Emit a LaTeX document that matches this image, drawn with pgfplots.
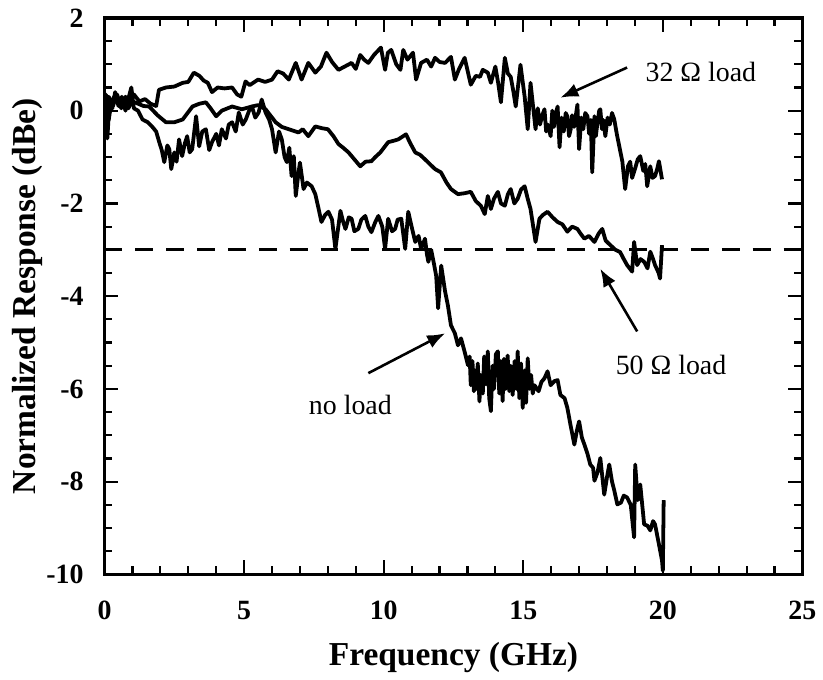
\documentclass[border=0pt]{standalone}
\usepackage{pgfplots}
\pgfplotsset{compat=1.18}
\usepackage{fontspec}
\setmainfont{Liberation Serif}
\usetikzlibrary{arrows.meta}

\pgfplotstableread{
x y
0.00 0.05
0.10 -0.45
0.15 0.30
0.30 0.10
0.45 0.35
0.60 0.05
0.75 0.30
0.90 0.15
1.05 0.35
1.25 0.20
1.45 0.25
1.65 0.15
1.85 0.10
1.95 0.45
2.20 0.50
2.50 0.52
2.80 0.60
3.00 0.62
3.20 0.82
3.40 0.75
3.55 0.65
3.70 0.60
3.85 0.40
4.05 0.50
4.30 0.48
4.57 0.50
4.75 0.35
4.90 0.30
5.05 0.63
5.20 0.55
5.50 0.67
5.75 0.62
6.00 0.67
6.20 0.85
6.40 0.80
6.60 0.67
6.85 1.03
7.06 0.67
7.30 1.03
7.55 0.82
7.75 0.95
7.95 1.25
8.15 1.05
8.38 0.88
8.60 0.95
8.85 1.03
9.00 0.90
9.16 1.20
9.30 1.10
9.45 1.03
9.65 1.20
9.90 1.36
10.05 0.88
10.15 1.25
10.27 1.31
10.45 1.00
10.60 0.88
10.70 1.31
10.85 1.10
11.05 1.25
11.16 0.67
11.34 1.03
11.55 1.10
11.70 0.95
11.84 1.14
12.00 1.05
12.20 1.03
12.41 1.16
12.55 0.67
12.70 0.90
12.90 1.14
13.12 0.56
13.30 0.75
13.45 0.73
13.55 0.88
13.73 0.82
13.84 0.60
14.00 0.95
14.10 0.60
14.20 0.18
14.34 1.14
14.45 0.80
14.55 0.73
14.65 0.40
14.73 0.09
14.90 0.99
15.05 0.30
15.16 -0.40
15.26 0.60
15.35 0.10
15.44 -0.40
15.52 0.05
15.60 -0.30
15.68 -0.10
15.76 0.03
15.82 -0.45
15.88 -0.30
15.98 -0.55
16.04 0.00
16.10 -0.35
16.17 -0.05
16.23 0.09
16.30 -0.79
16.37 -0.15
16.45 -0.45
16.52 -0.05
16.58 -0.12
16.64 -0.55
16.70 -0.40
16.75 -0.10
16.82 -0.35
16.94 0.13
17.00 -0.83
17.08 -0.15
17.15 -0.40
17.22 -0.05
17.30 -0.12
17.36 -0.50
17.42 -0.20
17.47 -1.33
17.55 -0.12
17.60 -0.55
17.65 -0.30
17.72 0.00
17.76 0.03
17.82 -0.40
17.87 -0.20
17.94 -0.55
18.02 -0.15
18.10 -0.30
18.18 -0.05
18.26 -0.19
18.35 -0.50
18.44 -0.77
18.55 -1.10
18.65 -1.69
18.75 -1.20
18.83 -1.10
18.90 -1.45
19.00 -1.26
19.10 -1.05
19.19 -0.98
19.30 -1.30
19.37 -1.15
19.44 -1.63
19.55 -1.20
19.63 -1.45
19.72 -1.41
19.80 -1.25
19.86 -1.09
19.97 -1.48
}\loadA

\pgfplotstableread{
x y
0.00 0.00
0.07 0.30
0.15 -0.20
0.25 0.20
0.40 0.35
0.55 0.10
0.70 0.25
0.85 0.05
1.00 0.20
1.20 0.15
1.40 0.10
1.60 0.09
1.90 -0.10
2.20 -0.25
2.50 -0.25
2.80 -0.19
3.15 0.09
3.40 0.15
3.63 0.18
3.80 0.05
4.00 -0.12
4.20 0.00
4.57 0.09
4.92 0.03
5.28 0.09
5.50 0.12
5.77 0.03
6.13 -0.25
6.35 -0.35
6.60 -0.40
6.95 -0.47
7.10 -0.40
7.30 -0.55
7.55 -0.34
7.80 -0.38
8.00 -0.40
8.20 -0.55
8.38 -0.72
8.55 -0.80
8.74 -0.90
8.95 -1.05
9.16 -1.20
9.35 -1.10
9.56 -1.09
9.70 -1.00
9.88 -0.90
10.16 -0.68
10.35 -0.65
10.52 -0.62
10.80 -0.51
10.95 -0.70
11.13 -0.90
11.30 -0.95
11.48 -1.05
11.65 -1.15
11.84 -1.26
12.05 -1.33
12.25 -1.55
12.41 -1.69
12.66 -1.80
12.90 -1.78
13.12 -1.75
13.30 -1.95
13.48 -2.05
13.62 -2.23
13.73 -1.84
13.84 -2.12
13.95 -1.90
14.09 -1.75
14.20 -2.00
14.34 -2.05
14.45 -1.80
14.55 -1.69
14.68 -2.00
14.80 -1.90
14.92 -1.70
15.05 -1.63
15.16 -1.90
15.26 -2.12
15.44 -2.83
15.58 -2.33
15.70 -2.25
15.87 -2.18
16.05 -2.30
16.23 -2.40
16.40 -2.45
16.58 -2.61
16.75 -2.50
16.94 -2.55
17.05 -2.65
17.19 -2.76
17.35 -2.70
17.55 -2.83
17.70 -2.65
17.83 -2.55
17.95 -2.80
18.12 -2.90
18.30 -3.00
18.47 -3.05
18.60 -3.20
18.72 -3.33
18.90 -3.47
18.97 -2.83
19.08 -3.33
19.20 -3.20
19.33 -3.26
19.45 -3.40
19.55 -3.04
19.65 -3.20
19.72 -3.33
19.85 -3.50
19.90 -3.62
19.97 -2.90
}\loadB

\pgfplotstableread{
x y
0.00 -0.10
0.05 0.35
0.10 -0.60
0.18 0.20
0.28 0.05
0.38 0.40
0.50 0.10
0.62 0.30
0.75 0.00
0.85 0.25
0.96 0.50
1.05 0.05
1.20 0.00
1.36 -0.19
1.55 -0.25
1.70 -0.34
1.85 -0.45
1.96 -0.68
2.05 -0.85
2.14 -1.11
2.25 -0.75
2.32 -0.83
2.39 -1.26
2.50 -0.90
2.58 -1.10
2.67 -0.62
2.78 -0.98
2.88 -0.70
2.96 -0.55
3.05 -0.90
3.14 -0.83
3.28 -0.12
3.39 -0.77
3.50 -0.45
3.63 -0.40
3.75 -0.85
3.85 -0.68
4.00 -0.50
4.10 -0.75
4.20 -0.40
4.35 -0.60
4.45 -0.30
4.57 -0.25
4.70 -0.45
4.81 -0.04
4.95 -0.30
5.06 -0.19
5.18 0.00
5.28 0.09
5.40 -0.15
5.52 -0.04
5.63 0.24
5.77 -0.04
5.90 -0.20
6.00 -0.40
6.13 -0.90
6.25 -0.45
6.35 -0.62
6.45 -1.00
6.53 -1.11
6.62 -0.80
6.70 -1.41
6.78 -0.98
6.85 -1.84
6.95 -1.33
7.00 -1.12
7.13 -1.69
7.25 -1.55
7.42 -1.63
7.55 -1.80
7.67 -2.12
7.77 -2.40
7.90 -2.25
8.02 -2.18
8.15 -2.35
8.27 -2.98
8.45 -2.16
8.55 -2.40
8.63 -2.55
8.75 -2.30
8.85 -2.33
8.95 -2.60
9.09 -2.55
9.20 -2.35
9.34 -2.27
9.45 -2.50
9.56 -2.62
9.70 -2.40
9.81 -2.27
9.95 -2.50
10.05 -2.98
10.16 -2.33
10.30 -2.60
10.41 -2.55
10.50 -2.35
10.63 -2.33
10.77 -2.98
10.88 -2.18
11.00 -2.50
11.13 -2.83
11.25 -2.70
11.34 -2.98
11.48 -2.76
11.55 -3.10
11.60 -3.26
11.70 -3.00
11.80 -3.30
11.88 -3.56
11.95 -4.26
12.06 -3.34
12.20 -3.90
12.30 -4.20
12.41 -4.63
12.55 -4.80
12.66 -5.06
12.77 -4.91
12.90 -5.20
13.02 -5.49
13.08 -5.30
13.12 -5.92
13.18 -5.40
13.23 -6.05
13.27 -5.60
13.33 -6.00
13.37 -5.45
13.43 -6.27
13.48 -5.70
13.55 -6.10
13.60 -5.30
13.66 -5.90
13.73 -5.19
13.78 -6.20
13.84 -6.48
13.90 -5.50
13.95 -6.00
14.02 -5.25
14.09 -5.19
14.14 -6.10
14.20 -5.40
14.26 -6.26
14.31 -5.35
14.37 -6.00
14.44 -5.28
14.50 -6.05
14.55 -5.50
14.62 -6.13
14.69 -5.40
14.75 -6.00
14.80 -5.19
14.86 -6.20
14.92 -5.45
14.98 -6.41
15.05 -5.60
15.10 -6.30
15.16 -5.34
15.22 -6.00
15.28 -5.70
15.34 -6.10
15.40 -5.92
15.55 -6.05
15.65 -5.85
15.76 -5.77
15.87 -5.62
15.98 -5.92
16.12 -5.83
16.23 -5.81
16.33 -6.13
16.48 -6.20
16.58 -6.41
16.69 -6.77
16.83 -7.20
16.92 -6.90
17.00 -6.70
17.10 -7.05
17.19 -7.20
17.30 -7.40
17.40 -7.63
17.50 -7.70
17.55 -7.98
17.66 -7.80
17.76 -7.49
17.90 -8.28
18.00 -7.90
18.08 -7.63
18.18 -8.00
18.26 -8.19
18.37 -8.49
18.50 -8.45
18.60 -8.30
18.72 -8.34
18.85 -8.50
18.97 -9.20
19.01 -7.63
19.10 -8.40
19.19 -8.06
19.33 -8.92
19.45 -8.95
19.55 -9.05
19.65 -8.85
19.72 -8.92
19.86 -9.35
19.97 -9.70
20.00 -9.92
20.03 -8.40
}\noload

\begin{document}
\begin{tikzpicture}
\begin{axis}[
  name=main,
  scale only axis,
  width=350.5pt, height=279.5pt,
  xmin=0, xmax=25, ymin=-10, ymax=2,
  xtick={0,5,...,25}, ytick={-10,-8,...,2},
  minor x tick num=4, minor y tick num=3,
  tick style={line width=1.1pt, black},
  major tick length=7pt, minor tick length=4pt,
  axis line style={line width=1.6pt},
  /pgf/number format/assume math mode=true,
  ticklabel style={font=\fontsize{14}{16}\selectfont\bfseries},
  xticklabel style={yshift=-10pt},
  yticklabel style={xshift=-7pt},
  xlabel={Frequency (GHz)},
  ylabel={Normalized Response (dBe)},
  label style={font=\fontsize{16.8}{19}\selectfont\bfseries},
  xlabel style={at={(axis description cs:0.5,-0.163)}, anchor=base},
  ylabel style={at={(axis description cs:-0.111,0.5)}, anchor=center, rotate=0},
  every axis plot/.append style={line join=round},
]
\addplot[black, line width=1.9pt] table {\loadA};
\addplot[black, line width=1.9pt] table {\loadB};
\addplot[black, line width=1.9pt] table {\noload};
\addplot[black, line width=1.5pt, dash pattern=on 9pt off 6.5pt] coordinates {(0,-3) (25,-3)};

\draw[line width=1.3pt, -{Latex[length=9pt,width=7pt]}] (axis cs:18.72,0.93) -- (axis cs:16.33,0.28);
\draw[line width=1.3pt, -{Latex[length=9pt,width=7pt]}] (axis cs:19.08,-4.76) -- (axis cs:17.76,-3.41);
\draw[line width=1.3pt, -{Latex[length=9pt,width=7pt]}] (axis cs:9.45,-5.66) -- (axis cs:12.2,-4.80);
\node[anchor=west, inner sep=0pt, font=\fontsize{14}{16}\selectfont] at (axis cs:19.37,0.84) {32 Ω load};
\node[anchor=west, inner sep=0pt, font=\fontsize{14}{16}\selectfont] at (axis cs:18.3,-5.49) {50 Ω load};
\node[anchor=west, inner sep=0pt, font=\fontsize{14}{16}\selectfont] at (axis cs:7.31,-6.35) {no load};
\end{axis}
\path ([xshift=-52.5pt,yshift=-50pt]main.south west) rectangle ([xshift=8.5pt,yshift=9pt]main.north east);
\end{tikzpicture}
\end{document}
